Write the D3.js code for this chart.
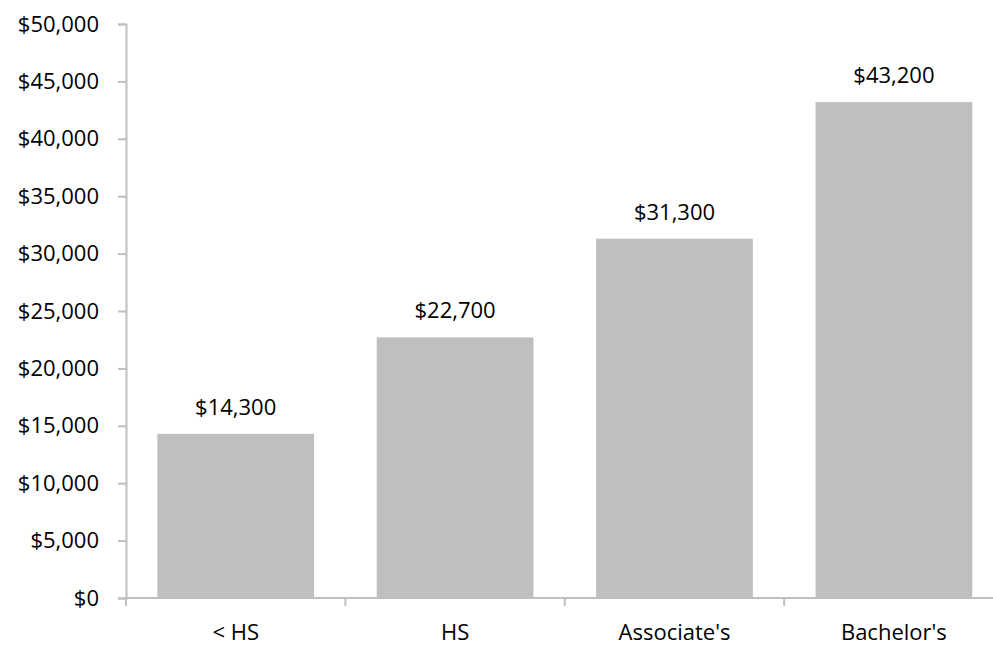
<!DOCTYPE html>
<html>
<head>
<meta charset="utf-8">
<script src="https://cdn.jsdelivr.net/npm/d3@7"></script>
<style>
  body { margin: 0; background: #fff; }
  svg text { font-family: "Open Sans", sans-serif; fill: #000; }
</style>
</head>
<body>
<svg id="canvas"></svg>
<script>
let categories = ['< HS', 'HS', "Associate's", "Bachelor's"]
let earnings = [14300, 22700, 31300, 43200]
let yTicks = [0, 5000, 10000, 15000, 20000, 25000, 30000, 35000, 40000, 45000, 50000]

let width = 993
let height = 648
let plotLeft = 126
let plotTop = 24
let plotBottom = 598
let band = 219.4

let canvas = d3.select('#canvas')
    .attr('width', width)
    .attr('height', height)

let xScale = d3.scaleBand()
    .domain(categories)
    .range([plotLeft, plotLeft + band * categories.length])
    .paddingInner(0.2857)
    .paddingOuter(0.1428)

let yScale = d3.scaleLinear()
    .domain([0, 50000])
    .range([plotBottom, plotTop])

let money = d3.format('$,')

// bars
canvas.selectAll('rect.bar')
    .data(earnings)
    .enter()
    .append('rect')
    .attr('class', 'bar')
    .attr('x', (d, i) => xScale(categories[i]))
    .attr('width', xScale.bandwidth())
    .attr('y', d => yScale(d))
    .attr('height', d => yScale(0) - yScale(d))
    .attr('fill', '#bfbfbf')

// value labels
canvas.selectAll('text.value')
    .data(earnings)
    .enter()
    .append('text')
    .attr('class', 'value')
    .attr('x', (d, i) => xScale(categories[i]) + xScale.bandwidth() / 2)
    .attr('y', d => yScale(d) - 19)
    .attr('text-anchor', 'middle')
    .style('font-size', '22px')
    .text(d => money(d))

// y axis
let yAxis = d3.axisLeft(yScale)
    .tickValues(yTicks)
    .tickFormat(money)
    .tickSize(8)
    .tickPadding(19)

let yG = canvas.append('g')
    .attr('transform', 'translate(' + plotLeft + ',0)')
    .call(yAxis)
yG.select('.domain').attr('stroke', '#bfbfbf').attr('stroke-width', 2)
yG.selectAll('.tick line').attr('stroke', '#bfbfbf').attr('stroke-width', 2)
yG.selectAll('.tick text').style('font-size', '22px').attr('fill', '#000')

// x axis
let xG = canvas.append('g')
    .attr('transform', 'translate(0,' + plotBottom + ')')
let xLine = d3.scaleLinear().domain([0, categories.length]).range([plotLeft, plotLeft + band * categories.length])
xG.append('line')
    .attr('x1', plotLeft).attr('x2', width)
    .attr('y1', 0).attr('y2', 0)
    .attr('stroke', '#bfbfbf').attr('stroke-width', 2)
xG.selectAll('line.tick')
    .data(d3.range(categories.length + 1))
    .enter()
    .append('line')
    .attr('class', 'tick')
    .attr('x1', d => xLine(d)).attr('x2', d => xLine(d))
    .attr('y1', 0).attr('y2', 8)
    .attr('stroke', '#bfbfbf').attr('stroke-width', 2)
xG.selectAll('text')
    .data(categories)
    .enter()
    .append('text')
    .attr('x', d => xScale(d) + xScale.bandwidth() / 2)
    .attr('y', 42)
    .attr('text-anchor', 'middle')
    .style('font-size', '22px')
    .text(d => d)
</script>
</body>
</html>
